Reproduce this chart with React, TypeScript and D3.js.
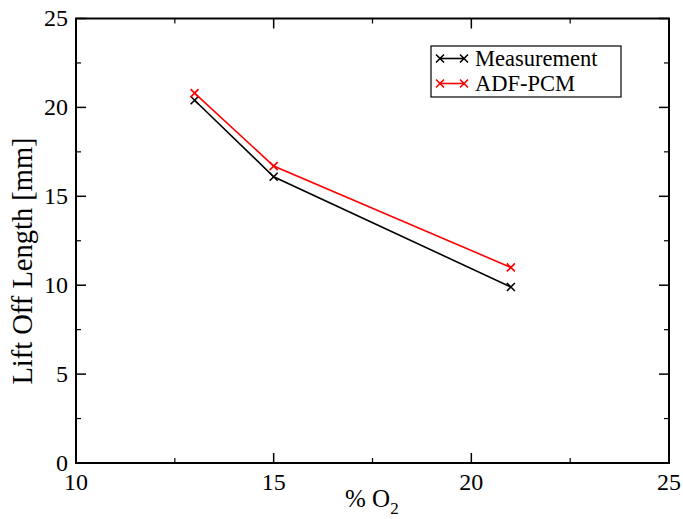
import React from "react";
import * as d3 from "d3";

const oxygen = [13, 15, 21];
const measurement = [20.4, 16.1, 9.9];
const adfPcm = [20.8, 16.7, 11.0];
const xTicks = [10, 15, 20, 25];
const yTicks = [0, 5, 10, 15, 20, 25];
const xMinor = [12.5, 17.5, 22.5];
const yMinor = [2.5, 7.5, 12.5, 17.5, 22.5];
const seriesNames = ["Measurement", "ADF-PCM"];
const seriesColors = ["#000000", "#ff0000"];

const W = 683, H = 519;
const L = 76, R = 669, T = 18.5, B = 463;
const FONT = "Liberation Serif, DejaVu Serif, Times, serif";
const ts = { fontFamily: FONT };

export default function App() {
  const x = d3.scaleLinear().domain([10, 25]).range([L, R]);
  const y = d3.scaleLinear().domain([0, 25]).range([B, T]);
  const series = [measurement, adfPcm];
  const line = d3.line<[number, number]>().x(d => x(d[0])).y(d => y(d[1]));

  const cross = (cx: number, cy: number, color: string, key: string) => (
    <path key={key} d={`M${cx - 4},${cy - 4}L${cx + 4},${cy + 4}M${cx - 4},${cy + 4}L${cx + 4},${cy - 4}`} stroke={color} strokeWidth={1.6} fill="none" />
  );

  return (
    <svg width={W} height={H} style={{ position: "absolute", left: 0, top: 0, background: "#fff" }}>
      <rect x={0} y={0} width={W} height={H} fill="#fff" />
      {xTicks.map(t => (
        <g key={"xt" + t}>
          <line x1={x(t)} x2={x(t)} y1={B} y2={B - 10} stroke="#000" strokeWidth={1.5} />
          <line x1={x(t)} x2={x(t)} y1={T} y2={T + 10} stroke="#000" strokeWidth={1.5} />
          <text x={x(t)} y={490} textAnchor="middle" fontSize={24} style={ts}>{t}</text>
        </g>
      ))}
      {xMinor.map(t => (
        <g key={"xm" + t}>
          <line x1={x(t)} x2={x(t)} y1={B} y2={B - 5} stroke="#000" strokeWidth={1.2} />
          <line x1={x(t)} x2={x(t)} y1={T} y2={T + 5} stroke="#000" strokeWidth={1.2} />
        </g>
      ))}
      {yTicks.map(t => (
        <g key={"yt" + t}>
          <line x1={L} x2={L + 10} y1={y(t)} y2={y(t)} stroke="#000" strokeWidth={1.5} />
          <line x1={R} x2={R - 10} y1={y(t)} y2={y(t)} stroke="#000" strokeWidth={1.5} />
          <text x={68} y={y(t) + 7.5} textAnchor="end" fontSize={24} style={ts}>{t}</text>
        </g>
      ))}
      {yMinor.map(t => (
        <g key={"ym" + t}>
          <line x1={L} x2={L + 5} y1={y(t)} y2={y(t)} stroke="#000" strokeWidth={1.2} />
          <line x1={R} x2={R - 5} y1={y(t)} y2={y(t)} stroke="#000" strokeWidth={1.2} />
        </g>
      ))}
      <rect x={L} y={T} width={R - L} height={B - T} fill="none" stroke="#000" strokeWidth={2} />
      {series.map((s, i) => {
        const pts = oxygen.map((o, j) => [o, s[j]] as [number, number]);
        return (
          <g key={"s" + i}>
            <path d={line(pts) || ""} fill="none" stroke={seriesColors[i]} strokeWidth={1.6} />
            {pts.map((p, j) => cross(x(p[0]), y(p[1]), seriesColors[i], `c${i}-${j}`))}
          </g>
        );
      })}
      <rect x={431} y={46} width={190} height={51} fill="#fff" stroke="#000" strokeWidth={1.2} />
      {seriesNames.map((n, i) => {
        const ly = 58.5 + i * 25;
        return (
          <g key={"l" + i}>
            <line x1={440} x2={464} y1={ly} y2={ly} stroke={seriesColors[i]} strokeWidth={1.6} />
            {cross(440, ly, seriesColors[i], `lc${i}a`)}
            {cross(464, ly, seriesColors[i], `lc${i}b`)}
            <text x={475} y={ly + 7} fontSize={22.5} style={ts}>{n}</text>
          </g>
        );
      })}
      <text x={345} y={507} fontSize={25} style={ts}>% O<tspan fontSize={17} dy={7}>2</tspan></text>
      <text transform={`translate(32,261) rotate(-90)`} textAnchor="middle" fontSize={28.5} style={ts}>Lift Off Length [mm]</text>
    </svg>
  );
}
